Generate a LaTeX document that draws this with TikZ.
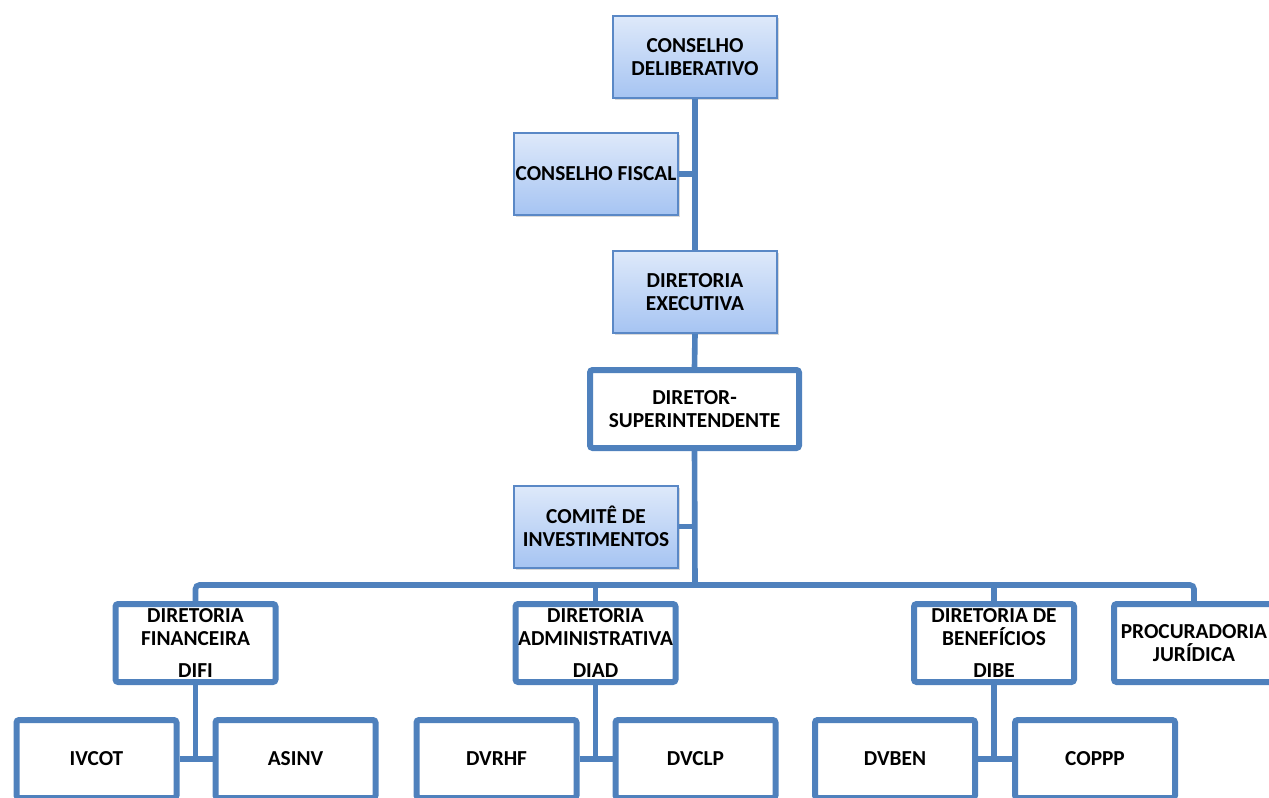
\documentclass[tikz,border=0pt]{standalone}
\usepackage{fontspec}
\setmainfont{Carlito}
\usetikzlibrary{shadows}
\definecolor{orgline}{HTML}{4F81BD}
\definecolor{orgedge}{HTML}{5A88C6}
\definecolor{orgtop}{HTML}{DEE9FA}
\definecolor{orgbottom}{HTML}{A6C4F2}

\begin{document}
\begin{tikzpicture}[x=0.75pt, y=-0.75pt,
        txt/.style={font=\fontsize{16}{17.5}\selectfont\bfseries, align=center, inner sep=0pt},
        conselho/.style={txt, draw=orgedge, line width=1.5pt, top color=orgtop, bottom color=orgbottom,
            minimum width=123pt, minimum height=61.5pt,
            drop shadow={opacity=0.3, shadow xshift=1.5pt, shadow yshift=-1.5pt}},
        diretoria/.style={txt, draw=orgline, line width=4.5pt, fill=white, rounded corners=2pt,
            minimum width=120pt, minimum height=58.5pt},
        ligacao/.style={draw=orgline, line width=4.2pt}]
        \clip (0, 0) rectangle (1269, 798);

        \node[conselho] (delib) at (695, 57) {CONSELHO\\DELIBERATIVO};
        \node[conselho] (fiscal) at (596, 174) {CONSELHO FISCAL};
        \node[conselho] (exec) at (695, 292) {DIRETORIA\\EXECUTIVA};
        \node[diretoria, minimum width=156.75pt] (dirsup) at (694.5, 409) {DIRETOR-\\SUPERINTENDENTE};
        \node[conselho] (comite) at (596, 526.5) {COMIT\^E DE\\INVESTIMENTOS};
        \coordinate (bus) at (695, 585);

        \node[diretoria] (difi) at (195.5, 643) {DIRETORIA\\FINANCEIRA\\[6.3pt]DIFI};
        \node[diretoria] (diad) at (595.5, 643) {DIRETORIA\\ADMINISTRATIVA\\[6.3pt]DIAD};
        \node[diretoria] (dibe) at (994, 643) {DIRETORIA DE\\BENEF\'ICIOS\\[6.3pt]DIBE};
        \node[diretoria] (proc) at (1194, 643) {PROCURADORIA\\JUR\'IDICA};

        \node[diretoria] (ivcot) at (96.5, 759) {IVCOT};
        \node[diretoria] (asinv) at (295.5, 759) {ASINV};
        \node[diretoria] (dvrhf) at (496.5, 759) {DVRHF};
        \node[diretoria] (dvclp) at (695.5, 759) {DVCLP};
        \node[diretoria] (dvben) at (895, 759) {DVBEN};
        \node[diretoria] (coppp) at (1095, 759) {COPPP};

        \draw[ligacao] (delib.south) -- (exec.north);
        \draw[ligacao] (exec.south) -- (dirsup.north);
        \draw[ligacao] (dirsup.south) -- (bus);
        \draw[ligacao] (fiscal.east) -- (fiscal.east -| delib.south);
        \draw[ligacao] (comite.east) -- (comite.east -| bus);
        \draw[ligacao, rounded corners=3pt] (difi.north) |- (bus) -| (proc.north);
        \draw[ligacao] (diad.north) -- (diad.north |- bus);
        \draw[ligacao] (dibe.north) -- (dibe.north |- bus);

        \foreach \dir/\esq/\dirt in {difi/ivcot/asinv, diad/dvrhf/dvclp, dibe/dvben/coppp} {
            \draw[ligacao] (\dir.south) -- (\dir.south |- \esq.east);
            \draw[ligacao] (\esq.east) -- (\dirt.west);
        }
    \end{tikzpicture}
\end{document}
